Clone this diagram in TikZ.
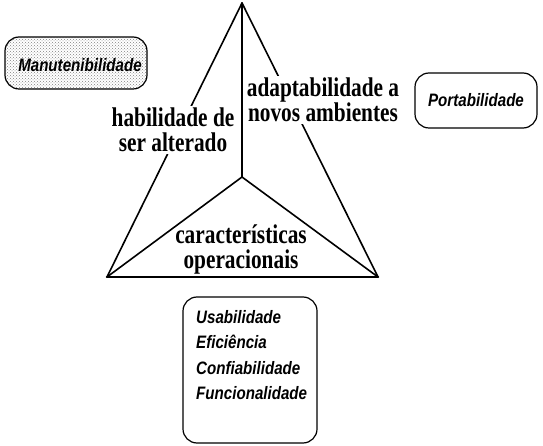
\documentclass[tikz,border=0pt]{standalone}
\usepackage{fontspec}
\usepackage{tikz}
\usetikzlibrary{patterns}
\newfontfamily\trifont[FakeStretch=0.79]{Liberation Serif}
\newfontfamily\qualfont[FakeStretch=0.84]{Liberation Sans}

\begin{document}
\begin{tikzpicture}[x=1pt,y=-1pt,
  side/.style={line width=1.6pt,line cap=round},
  base/.style={line width=2.6pt,line cap=round},
  trilabel/.style={align=center,inner sep=2pt,font=\trifont\bfseries\fontsize{27}{25}\selectfont},
  qbox/.style={draw,line width=1.2pt,rounded corners=14pt,align=center,inner sep=0pt,font=\qualfont\bfseries\itshape\fontsize{18}{25.5}\selectfont},
  qlist/.style={align=left,inner sep=0pt,font=\qualfont\bfseries\itshape\fontsize{18}{25.5}\selectfont}]
\useasboundingbox (0,0) rectangle (543,446);
% triangle
\coordinate (top) at (242,3);
\coordinate (left) at (107,277);
\coordinate (right) at (378,277);
\coordinate (mid) at (242,177);
\draw[side] (top) -- (left);
\draw[side] (top) -- (right);
\draw[side] (top) -- (mid);
\draw[side] (mid) -- (left);
\draw[side] (mid) -- (right);
\draw[base] (left) -- (right);
% faces
\node[trilabel,fill=white] (change) at (173,130) {habilidade de\\ser alterado};
\node[trilabel,fill=white] (adapt) at (323,100) {adaptabilidade a\\novos ambientes};
\node[trilabel] (oper) at (241,249) {características\\operacionais};
% quality factors
\node[qbox,pattern=crosshatch dots,pattern color=gray,minimum width=142pt,minimum height=52pt] (maint) at (76,63) {};
\node[qlist] at (80,65) {Manutenibilidade};
\node[qbox,minimum width=122pt,minimum height=55pt] (port) at (476,100.5) {Portabilidade};
\node[qbox,minimum width=134pt,minimum height=146pt] (quality) at (250,370) {};
\node[qlist,anchor=north west] (qtext) at (196,310) {Usabilidade\\Eficiência\\Confiabilidade\\Funcionalidade};
\end{tikzpicture}
\end{document}
